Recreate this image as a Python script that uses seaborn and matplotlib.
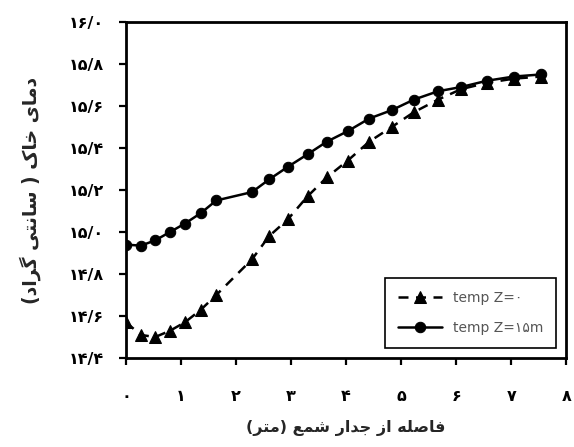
import matplotlib
matplotlib.use("Agg")
import matplotlib.pyplot as plt
import seaborn as sns

# distance from pile wall (m)
dist = [0, 0.27, 0.53, 0.8, 1.07, 1.36, 1.64, 2.29, 2.6, 2.94, 3.3,
        3.65, 4.03, 4.42, 4.83, 5.23, 5.67, 6.09, 6.56, 7.05, 7.55]
# soil temperature at Z=0
temp_z0 = [14.57, 14.51, 14.50, 14.53, 14.57, 14.63, 14.70, 14.87, 14.98, 15.06, 15.17,
           15.26, 15.34, 15.43, 15.50, 15.57, 15.63, 15.68, 15.71, 15.73, 15.74]
# soil temperature at Z=15m
temp_z15 = [14.94, 14.935, 14.96, 15.0, 15.04, 15.09, 15.15, 15.19, 15.25, 15.31, 15.37,
            15.43, 15.48, 15.54, 15.58, 15.63, 15.67, 15.69, 15.72, 15.74, 15.75]

yticks = [14.4, 14.6, 14.8, 15.0, 15.2, 15.4, 15.6, 15.8, 16.0]
xticks = [0, 1, 2, 3, 4, 5, 6, 7, 8]

FA_DIGITS = str.maketrans("0123456789", "۰۱۲۳۴۵۶۷۸۹")

# (isolated, final, initial, medial) presentation forms
FORMS = {
    "ا": ("\uFE8D", "\uFE8E", None, None),
    "ت": ("\uFE95", "\uFE96", "\uFE97", "\uFE98"),
    "ج": ("\uFE9D", "\uFE9E", "\uFE9F", "\uFEA0"),
    "خ": ("\uFEA5", "\uFEA6", "\uFEA7", "\uFEA8"),
    "د": ("\uFEA9", "\uFEAA", None, None),
    "ر": ("\uFEAD", "\uFEAE", None, None),
    "ز": ("\uFEAF", "\uFEB0", None, None),
    "س": ("\uFEB1", "\uFEB2", "\uFEB3", "\uFEB4"),
    "ش": ("\uFEB5", "\uFEB6", "\uFEB7", "\uFEB8"),
    "ص": ("\uFEB9", "\uFEBA", "\uFEBB", "\uFEBC"),
    "ع": ("\uFEC9", "\uFECA", "\uFECB", "\uFECC"),
    "ف": ("\uFED1", "\uFED2", "\uFED3", "\uFED4"),
    "ل": ("\uFEDD", "\uFEDE", "\uFEDF", "\uFEE0"),
    "م": ("\uFEE1", "\uFEE2", "\uFEE3", "\uFEE4"),
    "ن": ("\uFEE5", "\uFEE6", "\uFEE7", "\uFEE8"),
    "ه": ("\uFEE9", "\uFEEA", "\uFEEB", "\uFEEC"),
    "ی": ("\uFBFC", "\uFBFD", "\uFBFE", "\uFBFF"),
    "ک": ("\uFB8E", "\uFB8F", "\uFB90", "\uFB91"),
    "گ": ("\uFB92", "\uFB93", "\uFB94", "\uFB95"),
}
MIRROR = {"(": ")", ")": "("}


def rtl(text):
    # shape persian letters and put them in visual order
    out = []
    for i, ch in enumerate(text):
        if ch not in FORMS:
            out.append(ch)
            continue
        prev = text[i - 1] if i > 0 else ""
        nxt = text[i + 1] if i + 1 < len(text) else ""
        join_prev = prev in FORMS and FORMS[prev][2] is not None
        join_next = nxt in FORMS and FORMS[ch][2] is not None
        iso, fin, ini, med = FORMS[ch]
        if join_prev and join_next:
            out.append(med)
        elif join_prev:
            out.append(fin)
        elif join_next:
            out.append(ini)
        else:
            out.append(iso)
    return "".join(MIRROR.get(c, c) for c in reversed(out))


sns.set_style("ticks")
plt.rcParams["font.family"] = ["DejaVu Sans"]

fig = plt.figure(figsize=(5.74, 4.47), dpi=100)
ax = fig.add_axes([0.2195, 0.199, 0.767, 0.752])

sns.lineplot(x=dist, y=temp_z0, ax=ax, color="black", linewidth=1.8,
             linestyle=(0, (4, 3)), marker="^", markersize=8,
             markeredgecolor="black", label="temp Z=" + "0".translate(FA_DIGITS))
sns.lineplot(x=dist, y=temp_z15, ax=ax, color="black", linewidth=1.8,
             marker="o", markersize=7.5, markeredgecolor="black",
             label="temp Z=" + "15".translate(FA_DIGITS) + "m")

ax.set_xlim(0, 8)
ax.set_ylim(14.4, 16.0)
ax.set_xticks(xticks)
ax.set_xticklabels([str(t).translate(FA_DIGITS) for t in xticks],
                   fontweight="bold", fontsize=11.5)
ax.set_yticks(yticks)
ax.set_yticklabels([f"{t:.1f}".replace(".", "/").translate(FA_DIGITS) for t in yticks],
                   fontweight="bold", fontsize=11.5)
ax.tick_params(axis="both", direction="out", length=5, width=1.6, colors="black")
ax.tick_params(axis="x", pad=17)
ax.tick_params(axis="y", pad=11)
for s in ax.spines.values():
    s.set_visible(True)
    s.set_linewidth(2)
    s.set_color("black")

ax.set_xlabel(rtl("فاصله از جدار شمع (متر)"), fontweight="bold", fontsize=11.5, labelpad=12)
ax.set_ylabel(rtl("دمای خاک ( سانتی گراد)"), fontweight="bold", fontsize=13.5, labelpad=20)

leg = ax.legend(loc="lower right", fancybox=False, edgecolor="black", fontsize=10,
                handlelength=3.2, borderpad=0.9, labelspacing=1.2, framealpha=1,
                bbox_to_anchor=(0.993, 0.01))
leg.get_frame().set_linewidth(1.2)
for t in leg.get_texts():
    t.set_color("#555555")

fig.savefig("out.png", dpi=100)
